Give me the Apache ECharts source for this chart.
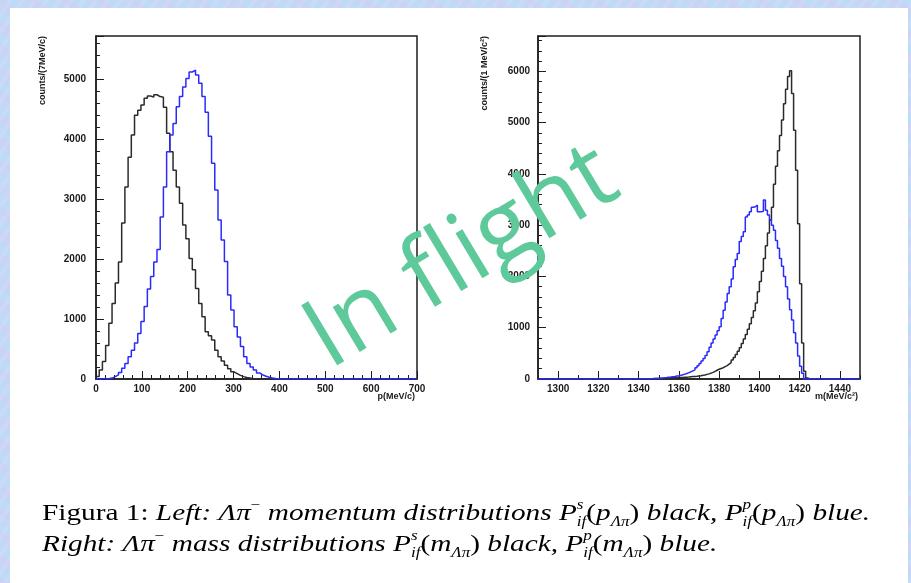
<!DOCTYPE html>
<html>
<head>
<meta charset="utf-8">
<script src="https://cdn.jsdelivr.net/npm/echarts@6/dist/echarts.min.js"></script>
<style>
  html, body { margin: 0; padding: 0; }
  body {
    width: 911px; height: 583px; overflow: hidden;
    background:
      repeating-linear-gradient(35deg, rgba(212,206,244,0.5) 0 5px, rgba(188,222,250,0.45) 5px 12px, rgba(200,214,246,0.5) 12px 19px),
      repeating-linear-gradient(-55deg, rgba(225,218,250,0.35) 0 4px, rgba(180,212,246,0.35) 4px 10px),
      #c4daf5;
  }
  #chart { width: 911px; height: 583px; }
</style>
</head>
<body>
<div id="chart"></div>
<script>
// left panel: momentum p(Λπ), 7 MeV/c bins starting at 0
var momLow = 0
var momHigh = 700
var momBinWidth = 7
var momBlack = [40, 150, 290, 560, 930, 1260, 1600, 1950, 2600, 3200,
  3700, 4070, 4400, 4480, 4570, 4680, 4720, 4700, 4740, 4710,
  4700, 4530, 4100, 3790, 3480, 3200, 2930, 2570, 2340, 2010,
  1820, 1510, 1260, 1040, 790, 720, 650, 480, 370, 300,
  230, 170, 120, 90, 60, 40, 25, 15, 8, 3]
var momBlue = [0, 0, 0, 5, 15, 40, 70, 110, 180, 260,
  370, 480, 600, 760, 960, 1210, 1500, 1710, 1950, 2160,
  2700, 3200, 3790, 4070, 4260, 4540, 4710, 4870, 5010, 5120,
  5150, 5070, 4930, 4710, 4450, 4050, 3600, 3150, 2650, 2320,
  1960, 1400, 1150, 870, 700, 540, 370, 260, 200, 150,
  100, 67, 45, 28, 15, 8, 3]

// right panel: mass m(Λπ), 1 MeV/c^2 bins, listed from 1340 (zero elsewhere)
var massLow = 1290
var massHigh = 1450
var massFirst = 1340
var massBlack = [2, 3, 3, 4, 5, 6, 7, 8, 10, 11,
  13, 14, 16, 18, 20, 22, 24, 26, 28, 30,
  28, 30, 33, 36, 39, 43, 47, 51, 55, 60,
  65, 72, 80, 90, 100, 115, 130, 150, 170, 190,
  205, 220, 240, 260, 290, 320, 370, 420, 480, 540,
  610, 690, 780, 870, 970, 1080, 1200, 1330, 1480, 1700,
  1900, 2100, 2350, 2600, 2850, 3100, 3350, 3800, 4150, 4450,
  4750, 5050, 5370, 5650, 5900, 6010, 5570, 4850, 4070, 3030,
  1860, 700, 150, 20]
var massBlue = [2, 3, 4, 5, 6, 7, 8, 10, 12, 14,
  17, 20, 24, 28, 33, 38, 44, 50, 57, 64,
  72, 82, 95, 108, 125, 140, 160, 180, 220, 260,
  300, 350, 400, 460, 530, 620, 700, 780, 860, 940,
  1020, 1180, 1340, 1500, 1670, 1800, 1950, 2190, 2330, 2450,
  2680, 2780, 2870, 3160, 3200, 3260, 3350, 3360, 3390, 3260,
  3260, 3270, 3490, 3290, 3200, 3100, 3000, 2900, 2700, 2550,
  2350, 2200, 2000, 1800, 1560, 1350, 1150, 900, 700, 450,
  250, 110]

var massLabelTicks = [1300, 1320, 1340, 1360, 1380, 1400, 1420, 1440]

// histogram outline: bin low edges + closing edge, drawn with step 'end'
function histPoints(values, first, width, low, high) {
  var pts = []
  var x = low
  while (x < first) { pts.push([x, 0]); x += width }
  for (var i = 0; i < values.length; i++) {
    pts.push([first + i * width, values[i]])
  }
  x = first + values.length * width
  while (x < high) { pts.push([x, 0]); x += width }
  pts.push([high, 0])
  return pts
}

var chart = echarts.init(document.getElementById('chart'))

var plain = function (v) { return String(v) }
var labelFont = { color: '#1a1a1a', fontSize: 10, fontWeight: 'bold', fontFamily: 'Liberation Sans', formatter: plain }
var frameColor = '#1e1e1e'

function yAxisOpt(gridIndex, max, margin) {
  return {
    type: 'value', gridIndex: gridIndex, min: 0, max: max, interval: 1000,
    axisLine: { show: true, lineStyle: { color: frameColor, width: 1.5 } },
    axisTick: { inside: true, length: 8, lineStyle: { color: frameColor } },
    minorTick: { show: true, splitNumber: 5, length: 4, lineStyle: { color: frameColor } },
    axisLabel: Object.assign({ margin: margin, showMaxLabel: false }, labelFont),
    splitLine: { show: false }
  }
}

var serif = 'Liberation Serif'
var captionStyle = {
  r: { fontFamily: serif, fontSize: 24, color: '#222', lineHeight: 31 },
  i: { fontFamily: serif, fontStyle: 'italic', fontSize: 24, color: '#222', lineHeight: 31 },
  sp: { fontFamily: serif, fontSize: 14, color: '#222', verticalAlign: 'top', lineHeight: 17 },
  sp0: { fontFamily: serif, fontStyle: 'italic', fontSize: 14, color: '#222', verticalAlign: 'top', lineHeight: 17, width: 0 },
  sb: { fontFamily: serif, fontStyle: 'italic', fontSize: 14, color: '#222', verticalAlign: 'bottom', lineHeight: 14 }
}

var caption =
  '{r|Figura 1: }{i|Left: Λπ}{sp|−}{i| momentum distributions P}{sp0|s}{sb|if}{r|(}{i|p}{sb|Λπ}{r|)}{i| black, P}{sp0|p}{sb|if}{r|(}{i|p}{sb|Λπ}{r|)}{i| blue.}\n' +
  '{i|Right: Λπ}{sp|−}{i| mass distributions P}{sp0|s}{sb|if}{r|(}{i|m}{sb|Λπ}{r|)}{i| black, P}{sp0|p}{sb|if}{r|(}{i|m}{sb|Λπ}{r|)}{i| blue.}'

chart.setOption({
  animation: false,
  backgroundColor: 'transparent',
  grid: [
    { left: 96, top: 36, width: 321, height: 343, show: true, borderColor: frameColor, borderWidth: 1.5 },
    { left: 538, top: 36, width: 322, height: 343, show: true, borderColor: frameColor, borderWidth: 1.5 }
  ],
  xAxis: [
    {
      type: 'value', gridIndex: 0, min: momLow, max: momHigh, interval: 100, position: 'bottom',
      axisLine: { show: true, lineStyle: { color: frameColor, width: 1.5 } },
      axisTick: { inside: true, length: 8, lineStyle: { color: frameColor } },
      minorTick: { show: true, splitNumber: 5, length: 4, lineStyle: { color: frameColor } },
      axisLabel: Object.assign({ margin: 5 }, labelFont),
      splitLine: { show: false }
    },
    {
      type: 'value', gridIndex: 1, min: massLow, max: massHigh, interval: 10, position: 'bottom',
      axisLine: { show: true, lineStyle: { color: frameColor, width: 1.5 } },
      axisTick: { inside: true, length: 4, lineStyle: { color: frameColor } },
      axisLabel: Object.assign({ margin: 5, customValues: massLabelTicks }, labelFont),
      splitLine: { show: false }
    },
    {
      type: 'value', gridIndex: 1, min: massLow, max: massHigh, position: 'bottom',
      axisLine: { show: false },
      axisTick: { inside: true, length: 8, customValues: massLabelTicks, lineStyle: { color: frameColor } },
      axisLabel: { show: false },
      splitLine: { show: false }
    }
  ],
  yAxis: [
    yAxisOpt(0, 5720, 10),
    yAxisOpt(1, 6690, 8)
  ],
  series: [
    { type: 'line', xAxisIndex: 0, yAxisIndex: 0, step: 'end', symbol: 'none', silent: true,
      lineStyle: { color: '#2b2b2b', width: 1.5 }, data: histPoints(momBlack, momLow, momBinWidth, momLow, momHigh) },
    { type: 'line', xAxisIndex: 0, yAxisIndex: 0, step: 'end', symbol: 'none', silent: true,
      lineStyle: { color: '#2a2aff', width: 1.5 }, data: histPoints(momBlue, momLow, momBinWidth, momLow, momHigh) },
    { type: 'line', xAxisIndex: 1, yAxisIndex: 1, step: 'end', symbol: 'none', silent: true,
      lineStyle: { color: '#2b2b2b', width: 1.5 }, data: histPoints(massBlack, massFirst, 1, massLow, massHigh) },
    { type: 'line', xAxisIndex: 1, yAxisIndex: 1, step: 'end', symbol: 'none', silent: true,
      lineStyle: { color: '#2a2aff', width: 1.5 }, data: histPoints(massBlue, massFirst, 1, massLow, massHigh) }
  ],
  graphic: [
    { type: 'rect', z: -10, silent: true, shape: { x: 10, y: 8, width: 898, height: 575 }, style: { fill: '#ffffff' } },
    { type: 'text', x: 43, y: 36, rotation: Math.PI / 2, silent: true,
      style: { text: 'counts/(7MeV/c)', align: 'right', verticalAlign: 'middle', fill: '#1a1a1a', font: 'bold 9px "Liberation Sans"' } },
    { type: 'text', x: 485, y: 36, rotation: Math.PI / 2, silent: true,
      style: { text: 'counts/(1 MeV/c²)', align: 'right', verticalAlign: 'middle', fill: '#1a1a1a', font: 'bold 9px "Liberation Sans"' } },
    { type: 'text', x: 415, y: 397, silent: true,
      style: { text: 'p(MeV/c)', align: 'right', verticalAlign: 'middle', fill: '#1a1a1a', font: 'bold 9px "Liberation Sans"' } },
    { type: 'text', x: 858, y: 397, silent: true,
      style: { text: 'm(MeV/c²)', align: 'right', verticalAlign: 'middle', fill: '#1a1a1a', font: 'bold 9px "Liberation Sans"' } },
    { type: 'text', x: 42, y: 498, scaleX: 1.22, silent: true,
      style: { text: caption, rich: captionStyle, align: 'left', verticalAlign: 'top' } },
    { type: 'text', x: 462, y: 258, z: 100, rotation: 0.54, silent: true,
      style: { text: 'In flight', align: 'center', verticalAlign: 'middle', fill: '#5ec99a', font: '98px "Open Sans"' } }
  ]
})
</script>
</body>
</html>
